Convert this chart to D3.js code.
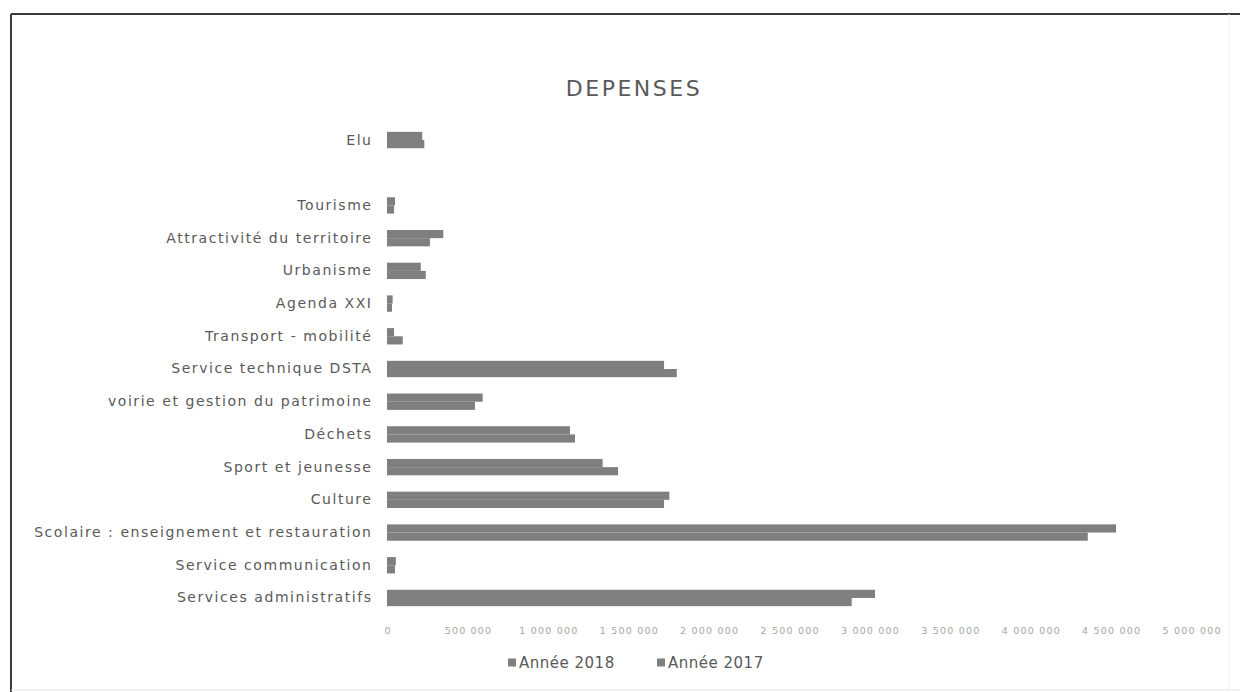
<!DOCTYPE html>
<html>
<head>
<meta charset="utf-8">
<script src="https://cdn.jsdelivr.net/npm/d3@7"></script>
<style>
  html, body { margin: 0; padding: 0; background: #fff; }
  svg { display: block; font-family: "DejaVu Sans", Verdana, sans-serif; }
</style>
</head>
<body>
<svg id="chart" width="1240" height="692"></svg>
<script>
// Budget lines, listed from top to bottom of the chart ("" is an empty row)
const categories = [
  "Elu",
  "",
  "Tourisme",
  "Attractivité du territoire",
  "Urbanisme",
  "Agenda XXI",
  "Transport - mobilité",
  "Service technique DSTA",
  "voirie et gestion du patrimoine",
  "Déchets",
  "Sport et jeunesse",
  "Culture",
  "Scolaire : enseignement et restauration",
  "Service communication",
  "Services administratifs"
];
const series = ["Année 2018", "Année 2017"];
const values2018 = [232000, 0, 44000, 267000, 241000, 31000, 98000, 1802000, 547000, 1169000, 1437000, 1723000, 4358000, 50000, 2890000];
const values2017 = [219000, 0, 50000, 350000, 210000, 35000, 44000, 1723000, 595000, 1138000, 1341000, 1756000, 4534000, 55000, 3035000];
const tickValues = [0, 500000, 1000000, 1500000, 2000000, 2500000, 3000000, 3500000, 4000000, 4500000, 5000000];
const title = "DEPENSES";

const rows = categories.map((c, i) => ({
  name: c,
  vals: [
    { key: "Année 2017", v: values2017[i] },
    { key: "Année 2018", v: values2018[i] }
  ]
}));

const svg = d3.select("#chart");
const barColor = "#7f7f7f";
const textColor = "#595959";

// frame
svg.append("line").attr("x1", 11).attr("y1", 14).attr("x2", 1240).attr("y2", 14)
  .attr("stroke", "#3a3a3a").attr("stroke-width", 2);
svg.append("line").attr("x1", 11).attr("y1", 14).attr("x2", 11).attr("y2", 692)
  .attr("stroke", "#3a3a3a").attr("stroke-width", 2);
svg.append("line").attr("x1", 11).attr("y1", 690).attr("x2", 1240).attr("y2", 690)
  .attr("stroke", "#e4e4e4").attr("stroke-width", 1);
svg.append("line").attr("x1", 1229).attr("y1", 14).attr("x2", 1229).attr("y2", 690)
  .attr("stroke", "#eeeeee").attr("stroke-width", 1);

// scales
const x = d3.scaleLinear().domain([0, 5000000]).range([387, 1191]);
const y = d3.scaleBand().domain(categories).range([115.5, 622.5])
  .paddingInner(0.5).paddingOuter(0.5);
const yInner = d3.scaleBand().domain(["Année 2017", "Année 2018"]).range([0, y.bandwidth()]);

// title
svg.append("text").attr("x", 634).attr("y", 96).attr("text-anchor", "middle")
  .attr("font-size", 22).attr("letter-spacing", 2.5).attr("fill", textColor).text(title);

// bars
const groups = svg.append("g").selectAll("g").data(rows).join("g")
  .attr("transform", d => `translate(0,${y(d.name)})`);
groups.selectAll("rect").data(d => d.vals.filter(e => e.v > 0)).join("rect")
  .attr("x", x(0))
  .attr("y", d => yInner(d.key))
  .attr("width", d => x(d.v) - x(0))
  .attr("height", yInner.bandwidth())
  .attr("fill", barColor);

// category labels
const yAxis = d3.axisLeft(y).tickSize(0).tickPadding(0);
const gy = svg.append("g").attr("transform", "translate(372.5,0)").call(yAxis);
gy.select(".domain").remove();
gy.selectAll("text").attr("font-size", 14).attr("letter-spacing", 1.55).attr("fill", textColor)
  .attr("font-family", "'DejaVu Sans', Verdana, sans-serif");

// value axis
const fr = d3.formatLocale({ decimal: ",", thousands: "\u00a0", grouping: [3], currency: ["", " €"] });
const xAxis = d3.axisBottom(x).tickValues(tickValues).tickFormat(fr.format(",.0f")).tickSize(0).tickPadding(0);
const gx = svg.append("g").attr("transform", "translate(0.6,627)").call(xAxis);
gx.select(".domain").remove();
gx.selectAll("text").attr("font-size", 9.5).attr("letter-spacing", 1.2).attr("fill", "#a6a6a6")
  .attr("font-family", "'DejaVu Sans', Verdana, sans-serif");

// legend
const legendX = [508, 657];
const lg = svg.append("g").selectAll("g").data(series).join("g")
  .attr("transform", (d, i) => `translate(${legendX[i]},668)`);
lg.append("rect").attr("x", 0).attr("y", -9.5).attr("width", 8).attr("height", 8).attr("fill", barColor);
lg.append("text").attr("x", 11).attr("y", 0).attr("font-size", 15).attr("letter-spacing", 0.5)
  .attr("fill", textColor).text(d => d);
</script>
</body>
</html>
